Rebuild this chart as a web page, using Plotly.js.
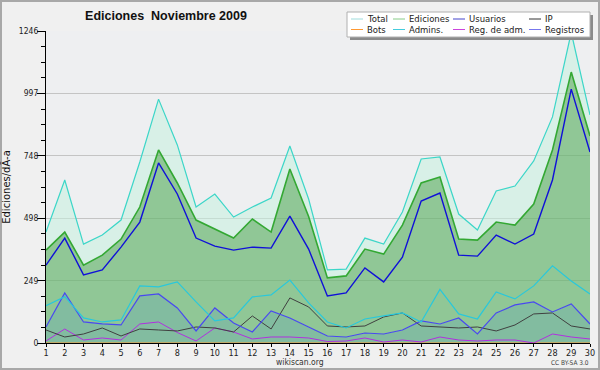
<!DOCTYPE html>
<html>
<head>
<meta charset="utf-8">
<script src="https://cdn.plot.ly/plotly-3.0.1.min.js"></script>
<style>html,body{margin:0;padding:0;background:#f0f0f0;}#chart{width:600px;height:370px;}</style>
</head>
<body>
<div id="chart"></div>
<script>
// ---- data ----
var days = [1,2,3,4,5,6,7,8,9,10,11,12,13,14,15,16,17,18,19,20,21,22,23,24,25,26,27,28,29,30];
var total     = [443,651,395,431,491,723,974,791,543,595,503,543,579,787,575,292,295,419,395,523,735,743,515,451,607,627,727,903,1240,911];
var ediciones = [371,443,311,351,415,543,771,639,491,455,419,495,443,695,505,260,268,375,355,471,639,663,415,411,483,471,555,771,1082,827];
var usuarios  = [311,419,272,292,383,483,719,595,419,387,371,383,379,507,375,188,200,300,244,343,567,599,351,347,431,395,435,651,1014,763];
var ip        = [52,24,36,60,28,56,52,48,64,60,44,108,56,180,144,68,64,68,104,120,68,64,60,64,48,72,116,120,68,56];
var bots      = [0,0,0,0,0,0,0,0,0,0,0,0,0,0,0,0,0,0,0,0,0,0,0,0,0,0,0,0,0,0];
var admins    = [149,185,100,84,92,228,224,244,164,88,100,184,192,251,160,84,60,96,108,120,84,214,116,96,204,176,228,308,248,196];
var regAdm    = [8,56,12,20,12,76,84,42,8,60,44,16,24,24,20,6,8,20,4,12,4,24,12,8,12,12,0,36,24,16];
var registros = [64,200,84,76,72,188,196,140,48,140,80,44,128,100,64,28,24,40,36,52,88,76,100,36,120,152,164,124,156,76];
var yTicks = [0,249,498,748,997,1246];
var legendNames = [["Total","Ediciones","Usuarios","IP"],["Bots","Admins.","Reg. de adm.","Registros"]];

// ---- styles ----
var legendColors = [["#9fdcdc","#88cc88","#4444cc","#333333"],["#ff9933","#44ccdd","#cc44dd","#7777ee"]];
var FONT = "DejaVu Sans, sans-serif";
var FONTC = "DejaVu Sans Condensed, DejaVu Sans, sans-serif";

// plot area geometry in pixels
var L = 46, R = 10, T = 31, B = 27, W = 600, H = 370;
var pw = W - L - R, ph = H - T - B;
function px(x){ return (x - L) / pw; }
function py(y){ return (H - B - y) / ph; }

var traces = [
  {x: days, y: registros, mode: 'lines', line: {width: 0}, fill: 'tozeroy', fillcolor: 'rgba(84,166,125,0.7)', hoverinfo: 'skip', showlegend: false},
  {x: days, y: ediciones, mode: 'lines', line: {width: 0}, fill: 'tonexty', fillcolor: 'rgba(104,183,111,0.7)', hoverinfo: 'skip', showlegend: false},
  {x: days, y: total, mode: 'lines', line: {width: 0}, fill: 'tonexty', fillcolor: 'rgba(198,240,222,0.55)', hoverinfo: 'skip', showlegend: false},
  {x: days, y: bots, name: 'Bots', mode: 'lines', line: {color: '#ff9933', width: 1}},
  {x: days, y: regAdm, name: 'Reg. de adm.', mode: 'lines', line: {color: '#b030e0', width: 1}},
  {x: days, y: ip, name: 'IP', mode: 'lines', line: {color: '#404040', width: 1}},
  {x: days, y: registros, name: 'Registros', mode: 'lines', line: {color: '#4848f0', width: 1.2}},
  {x: days, y: admins, name: 'Admins.', mode: 'lines', line: {color: '#28c8dc', width: 1.2}},
  {x: days, y: usuarios, name: 'Usuarios', mode: 'lines', line: {color: '#1010d8', width: 1.4}},
  {x: days, y: ediciones, name: 'Ediciones', mode: 'lines', line: {color: '#33a833', width: 1.6}},
  {x: days, y: total, name: 'Total', mode: 'lines', line: {color: '#3cd6c8', width: 1.2}}
];

var shapes = [
  // outer border
  {type: 'rect', xref: 'paper', yref: 'paper', x0: px(1), x1: px(599), y0: py(1), y1: py(369), line: {color: '#a8a8a8', width: 2}, layer: 'below'},
  // legend shadow and box
  {type: 'rect', xref: 'paper', yref: 'paper', x0: px(350), x1: px(593), y0: py(15), y1: py(40), fillcolor: '#8a8a8a', line: {width: 0}, layer: 'above'},
  {type: 'rect', xref: 'paper', yref: 'paper', x0: px(347), x1: px(590), y0: py(12), y1: py(37), fillcolor: '#ffffff', line: {color: '#b0b0b0', width: 1}, layer: 'above'}
];
var annotations = [
  {text: 'wikiscan.org', xref: 'paper', yref: 'paper', x: px(300), y: py(362), xanchor: 'center', yanchor: 'middle', showarrow: false, font: {family: FONTC, size: 8.5, color: '#333'}},
  {text: 'CC BY-SA 3.0', xref: 'paper', yref: 'paper', x: px(591), y: py(363), xanchor: 'right', yanchor: 'middle', showarrow: false, font: {family: FONTC, size: 6.5, color: '#444'}}
];
var colX = [351, 393, 453, 529];
var rowY = [19, 29.5];
for (var r = 0; r < 2; r++) {
  for (var c = 0; c < 4; c++) {
    shapes.push({type: 'line', xref: 'paper', yref: 'paper', x0: px(colX[c]), x1: px(colX[c] + 12), y0: py(rowY[r]), y1: py(rowY[r]), line: {color: legendColors[r][c], width: 1}, layer: 'above'});
    annotations.push({text: legendNames[r][c], xref: 'paper', yref: 'paper', x: px(colX[c] + 14), y: py(rowY[r]), xanchor: 'left', yanchor: 'middle', showarrow: false, font: {family: FONT, size: 8.5, color: '#222'}});
  }
}

var layout = {
  width: W, height: H,
  margin: {l: L, r: R, t: T, b: B},
  paper_bgcolor: '#f0f0f0',
  plot_bgcolor: '#eeeff1',
  showlegend: false,
  title: {text: '<b>Ediciones\u00a0 Noviembre 2009</b>', font: {family: 'Liberation Sans, Arial, sans-serif', size: 12.5, color: '#111'}, x: 166 / W, xref: 'container', xanchor: 'center', y: 1 - 16 / H, yref: 'container', yanchor: 'middle'},
  xaxis: {range: [1, 30], tickvals: days, ticks: 'outside', ticklen: 3, tickcolor: '#000', showline: true, linecolor: '#000', linewidth: 1, showgrid: false, zeroline: false, tickfont: {family: FONTC, size: 9, color: '#222'}, ticklabelstandoff: -2, fixedrange: true},
  yaxis: {range: [0, 1246], tickvals: yTicks, ticks: 'outside', ticklen: 8, tickcolor: '#000', showline: true, linecolor: '#000', linewidth: 1, showgrid: true, gridcolor: '#c4c4c4', gridwidth: 1, zeroline: false,
          minor: {dtick: 62.3, tick0: 0, ticks: 'outside', ticklen: 4, tickcolor: '#000', showgrid: false},
          tickfont: {family: FONTC, size: 8.5, color: '#222'}, ticklabelstandoff: -3,
          title: {text: 'Ediciones/dÃ-a', font: {family: FONT, size: 10, color: '#111'}, standoff: 6}, fixedrange: true},
  shapes: shapes,
  annotations: annotations
};

Plotly.newPlot('chart', traces, layout, {displayModeBar: false, staticPlot: true});
</script>
</body>
</html>
